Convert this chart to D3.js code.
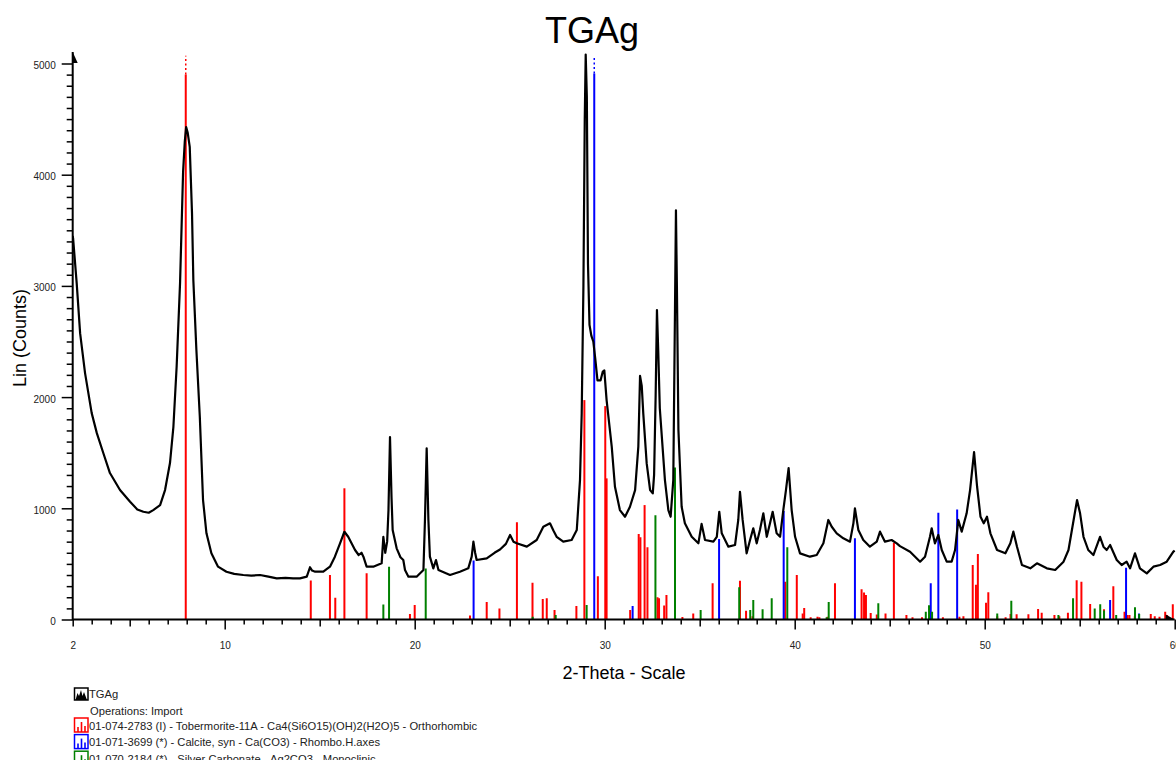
<!DOCTYPE html>
<html>
<head>
<meta charset="utf-8">
<script src="https://cdn.jsdelivr.net/npm/d3@7"></script>
<style>
  body { margin: 0; background: #fff; }
  svg { display: block; font-family: "Liberation Sans", Arial, sans-serif; }
</style>
</head>
<body>
<svg id="chart" width="1176" height="760"></svg>
<script>
// measured scan, [2-theta, counts]
const scan = [
  [2.0, 3450], [2.02, 3430], [2.21, 3025], [2.39, 2575], [2.65, 2216], [3.0, 1856], [3.27, 1676],
  [3.61, 1497], [3.96, 1317], [4.49, 1164], [5.02, 1059], [5.4, 990], [5.72, 969], [6.0, 960],
  [6.24, 984], [6.6, 1029], [6.86, 1164], [7.12, 1407], [7.3, 1733], [7.47, 2273], [7.65, 3025],
  [7.81, 4026], [7.9, 4300], [7.97, 4428], [8.05, 4380], [8.16, 4250], [8.22, 3950], [8.28, 3650],
  [8.35, 3050], [8.51, 2423], [8.69, 1823], [8.86, 1074], [9.04, 775], [9.3, 595], [9.65, 475],
  [10.09, 430], [10.5, 410], [10.98, 400], [11.4, 395], [11.86, 400], [12.3, 385], [12.74, 370],
  [13.2, 375], [13.6, 370], [13.96, 370], [14.32, 385], [14.49, 470], [14.6, 440], [14.76, 430],
  [15.19, 430], [15.54, 475], [15.8, 565], [16.07, 685], [16.3, 789], [16.5, 744], [16.86, 625],
  [17.05, 580], [17.2, 600], [17.3, 565], [17.47, 475], [17.82, 475], [18.26, 505], [18.35, 744],
  [18.45, 600], [18.55, 700], [18.62, 984], [18.7, 1640], [18.78, 1100], [18.84, 805], [19.05, 640],
  [19.25, 560], [19.4, 535], [19.49, 445], [19.67, 385], [20.1, 385], [20.46, 445], [20.54, 895],
  [20.63, 1540], [20.72, 900], [20.8, 565], [20.98, 460], [21.12, 535], [21.25, 445], [21.86, 400],
  [22.38, 430], [22.82, 460], [23.0, 565], [23.09, 700], [23.18, 600], [23.26, 535], [23.79, 550],
  [24.2, 600], [24.49, 630], [24.8, 680], [25.02, 760], [25.2, 700], [25.37, 685], [25.9, 655],
  [26.42, 715], [26.77, 834], [27.12, 865], [27.3, 800], [27.47, 744], [27.82, 700], [28.26, 715],
  [28.53, 805], [28.7, 1254], [28.79, 1854], [28.88, 3000], [28.95, 4500], [29.0, 5080], [29.06, 4700],
  [29.12, 3200], [29.2, 2650], [29.3, 2550], [29.4, 2500], [29.5, 2350], [29.62, 2150], [29.78, 2150],
  [29.9, 2230], [29.98, 2240], [30.1, 1973], [30.37, 1554], [30.54, 1194], [30.8, 984], [31.07, 924],
  [31.33, 1014], [31.6, 1164], [31.77, 1554], [31.86, 2190], [31.95, 2100], [32.03, 1854], [32.21, 1404],
  [32.39, 1164], [32.53, 1134], [32.6, 1300], [32.68, 2000], [32.75, 2783], [32.82, 2400], [32.9, 1900],
  [33.17, 1254], [33.35, 984], [33.47, 924], [33.61, 1254], [33.7, 2800], [33.75, 3680], [33.8, 3000],
  [33.88, 1704], [34.05, 1014], [34.22, 865], [34.58, 744], [34.93, 685], [35.1, 860], [35.28, 715],
  [35.72, 700], [35.9, 744], [36.03, 969], [36.16, 775], [36.51, 655], [36.86, 670], [37.03, 895],
  [37.12, 1149], [37.26, 895], [37.47, 595], [37.65, 715], [37.82, 820], [38.0, 685], [38.17, 805],
  [38.35, 955], [38.53, 744], [38.7, 865], [38.84, 969], [39.05, 775], [39.23, 744], [39.4, 984],
  [39.54, 1164], [39.68, 1362], [39.84, 984], [40.02, 744], [40.28, 595], [40.8, 565], [41.16, 580],
  [41.51, 685], [41.77, 895], [41.95, 834], [42.21, 775], [42.56, 730], [42.91, 700], [43.09, 865],
  [43.17, 999], [43.35, 805], [43.61, 715], [43.96, 655], [44.32, 700], [44.49, 790], [44.75, 700],
  [45.1, 715], [45.37, 685], [45.54, 660], [46.07, 610], [46.6, 520], [46.86, 565], [47.12, 744],
  [47.21, 820], [47.38, 685], [47.56, 760], [47.74, 625], [48.0, 520], [48.26, 520], [48.44, 625],
  [48.61, 895], [48.79, 790], [49.05, 955], [49.23, 1164], [49.44, 1506], [49.6, 1194], [49.78, 924],
  [49.95, 865], [50.12, 924], [50.3, 775], [50.65, 625], [51.09, 595], [51.35, 685], [51.51, 790],
  [51.7, 655], [51.96, 490], [52.4, 460], [52.75, 505], [53.27, 460], [53.71, 445], [54.15, 520],
  [54.41, 625], [54.68, 895], [54.86, 1074], [55.02, 955], [55.2, 744], [55.45, 625], [55.72, 580],
  [56.07, 744], [56.25, 655], [56.42, 625], [56.6, 670], [56.95, 535], [57.21, 490], [57.47, 520],
  [57.65, 460], [57.91, 595], [58.17, 460], [58.53, 415], [58.88, 475], [59.23, 490], [59.58, 520],
  [59.93, 610], [60.0, 620],
];

// reference patterns, [2-theta, height in counts]
const tobermorite = [
  [7.95, 4900], [14.53, 350], [15.54, 400], [15.82, 196], [16.3, 1180], [17.47, 415], [19.75, 50],
  [20.0, 130], [22.91, 35], [23.79, 157], [24.46, 100], [25.38, 874], [26.2, 331], [26.74, 184],
  [26.95, 190], [27.36, 85], [28.51, 121], [28.93, 1973], [29.64, 388], [30.03, 1919], [30.1, 1269],
  [31.34, 85], [31.79, 769], [31.88, 739], [32.1, 1029], [32.25, 649], [32.78, 199], [32.86, 190],
  [33.13, 127], [33.25, 220], [34.09, 22], [34.66, 55], [35.68, 325], [37.12, 348], [37.44, 78],
  [37.78, 30], [39.5, 340], [40.11, 400], [40.42, 55], [40.5, 103], [40.84, 20], [41.2, 25],
  [41.3, 20], [41.73, 25], [42.12, 325], [43.52, 272], [43.65, 242], [43.75, 220], [44.0, 58],
  [44.32, 45], [44.78, 55], [45.22, 690], [45.88, 40], [46.2, 20], [46.7, 20], [47.2, 20],
  [47.8, 20], [48.67, 25], [48.88, 30], [49.37, 490], [49.54, 313], [49.64, 589], [50.07, 151],
  [50.19, 244], [50.66, 30], [51.1, 20], [51.36, 50], [51.68, 48], [52.3, 48], [52.81, 94],
  [53.0, 60], [53.67, 40], [53.93, 30], [54.38, 60], [54.84, 352], [55.09, 340], [55.55, 139],
  [56.28, 92], [56.77, 298], [57.36, 70], [57.52, 40], [57.62, 40], [57.9, 30], [58.74, 50],
  [58.95, 30], [59.2, 25], [59.5, 70], [59.6, 40], [59.9, 138],
];
const calcite = [
  [23.1, 530], [29.45, 4910], [31.47, 121], [36.02, 724], [39.42, 975], [43.17, 730], [47.16, 325],
  [47.56, 960], [48.55, 990], [56.6, 175], [57.44, 466], [58.12, 55],
];
const silverCarbonate = [
  [18.35, 136], [18.65, 475], [20.58, 458], [26.21, 25], [27.42, 40], [29.05, 130], [32.67, 937],
  [33.7, 1368], [35.05, 85], [37.08, 290], [37.66, 85], [37.82, 175], [38.31, 92], [38.79, 190],
  [39.61, 649], [41.68, 20], [41.79, 158], [44.4, 146], [46.9, 70], [47.07, 128], [47.23, 70],
  [50.66, 55], [51.4, 169], [53.88, 40], [54.65, 192], [55.79, 100], [56.08, 137], [56.28, 80],
  [56.92, 40], [57.91, 110], [58.13, 50],
];

const yLabelTicks = [0, 1000, 2000, 3000, 4000, 5000];
const xLabelTicks = [2, 10, 20, 30, 40, 50, 60];
const stickCap = 4900; // sticks at or above this run off the top, shown dotted

const patterns = [
  { name: '01-074-2783 (I) - Tobermorite-11A - Ca4(Si6O15)(OH)2(H2O)5 - Orthorhombic', color: '#ff0000', data: tobermorite },
  { name: '01-071-3699 (*) - Calcite, syn - Ca(CO3) - Rhombo.H.axes', color: '#0000ff', data: calcite },
  { name: '01-070-2184 (*) - Silver Carbonate - Ag2CO3 - Monoclinic', color: '#008000', data: silverCarbonate },
];

const svg = d3.select('#chart');
const x = d3.scaleLinear().domain([2, 60]).range([72.7, 1174.7]);
const y = d3.scaleLinear().domain([0, 5000]).range([619.5, 63.5]);
const axisTop = 52;

svg.append('defs').append('clipPath').attr('id', 'plot')
  .append('rect')
  .attr('x', x(2)).attr('y', axisTop)
  .attr('width', x(60) - x(2) + 1).attr('height', y(0) - axisTop);

const plot = svg.append('g').attr('clip-path', 'url(#plot)');

// stick patterns
patterns.forEach((p) => {
  const g = plot.append('g').attr('stroke', p.color).attr('stroke-width', 2);
  g.selectAll('line.stick').data(p.data).enter()
    .append('line')
    .attr('class', 'stick')
    .attr('x1', d => x(d[0])).attr('x2', d => x(d[0]))
    .attr('y1', y(0)).attr('y2', d => y(d[1]));
  g.selectAll('line.over').data(p.data.filter(d => d[1] >= stickCap)).enter()
    .append('line')
    .attr('class', 'over')
    .attr('x1', d => x(d[0])).attr('x2', d => x(d[0]))
    .attr('y1', d => y(d[1])).attr('y2', y(5070))
    .attr('stroke-width', 1.5)
    .attr('stroke-dasharray', '2,2.5');
});

// scan trace
plot.append('path')
  .datum(scan)
  .attr('fill', 'none')
  .attr('stroke', '#000')
  .attr('stroke-width', 2.2)
  .attr('stroke-linejoin', 'round')
  .attr('d', d3.line().x(d => x(d[0])).y(d => y(d[1])));

// y axis
const yAxis = d3.axisLeft(y)
  .tickValues(d3.range(0, 5001, 100))
  .tickSizeOuter(0)
  .tickFormat(d => (yLabelTicks.includes(d) ? d : ''));
const yg = svg.append('g').attr('transform', `translate(${x(2)},0)`).call(yAxis);
yg.select('.domain').remove();
yg.selectAll('.tick line')
  .attr('x2', d => (d % 1000 === 0 ? -11 : -6))
  .attr('stroke', '#000').attr('stroke-width', 1.5);
yg.selectAll('.tick text')
  .attr('x', -17).attr('dy', '0.5em')
  .attr('fill', '#222').style('font-size', '10px')
  .style('font-family', '"Liberation Sans", Arial, sans-serif');

// x axis
const xAxis = d3.axisBottom(x)
  .tickValues(d3.range(2, 61, 1))
  .tickSizeOuter(0)
  .tickFormat(d => (xLabelTicks.includes(d) ? d : ''));
const xg = svg.append('g').attr('transform', `translate(0,${y(0)})`).call(xAxis);
xg.select('.domain').remove();
xg.selectAll('.tick line')
  .attr('y2', (d) => {
    if (d % 10 === 0) return 10;
    if (d % 5 === 0 || d === 2) return 7;
    return 5;
  })
  .attr('stroke', '#000').attr('stroke-width', 1.5);
xg.selectAll('.tick text')
  .attr('y', 22)
  .attr('fill', '#222').style('font-size', '10px')
  .style('font-family', '"Liberation Sans", Arial, sans-serif');

// axis lines with arrow heads
svg.append('path')
  .attr('fill', 'none').attr('stroke', '#000').attr('stroke-width', 2)
  .attr('d', `M${x(2)},${axisTop}V${y(0)}H${x(60)}`);
svg.append('path')
  .attr('fill', '#000')
  .attr('d', `M${x(2)},${axisTop}L${x(2) + 5},${axisTop + 11}L${x(2)},${axisTop + 11}Z`);
svg.append('path')
  .attr('fill', '#000')
  .attr('d', `M${x(60) - 9},${y(0) - 5}L${x(60)},${y(0)}L${x(60) - 9},${y(0)}Z`);

// titles
svg.append('text')
  .attr('x', 592).attr('y', 43)
  .attr('text-anchor', 'middle')
  .style('font-size', '36px')
  .text('TGAg');
svg.append('text')
  .attr('x', 624).attr('y', 679)
  .attr('text-anchor', 'middle')
  .style('font-size', '18px')
  .text('2-Theta - Scale');
svg.append('text')
  .attr('transform', 'translate(26,338) rotate(-90)')
  .attr('text-anchor', 'middle')
  .style('font-size', '18px')
  .text('Lin (Counts)');

// legend
const legend = svg.append('g').style('font-size', '11.2px').attr('fill', '#222');
const scanIcon = legend.append('g').attr('transform', 'translate(74.5,688)');
scanIcon.append('rect').attr('width', 13.5).attr('height', 12)
  .attr('fill', 'none').attr('stroke', '#000').attr('stroke-width', 1.5);
scanIcon.append('path').attr('fill', '#000')
  .attr('d', 'M1,12L3,5L4.5,8L6.5,2L8,8L9.5,4L12.5,12Z');
legend.append('text').attr('x', 89).attr('y', 698).text('TGAg');
legend.append('text').attr('x', 90).attr('y', 714.5).text('Operations: Import');

patterns.forEach((p, i) => {
  const top = 718 + i * 16.6;
  const icon = legend.append('g').attr('transform', `translate(74.5,${top})`);
  icon.append('rect').attr('width', 13.5).attr('height', 14)
    .attr('fill', 'none').attr('stroke', p.color).attr('stroke-width', 1.5);
  [[3.5, 5], [7, 10], [10.5, 6]].forEach(([bx, bh]) => {
    icon.append('line')
      .attr('x1', bx).attr('x2', bx).attr('y1', 14).attr('y2', 14 - bh)
      .attr('stroke', p.color).attr('stroke-width', 1.6);
  });
  legend.append('text').attr('x', 89).attr('y', top + 11.5).text(p.name);
});
</script>
</body>
</html>
